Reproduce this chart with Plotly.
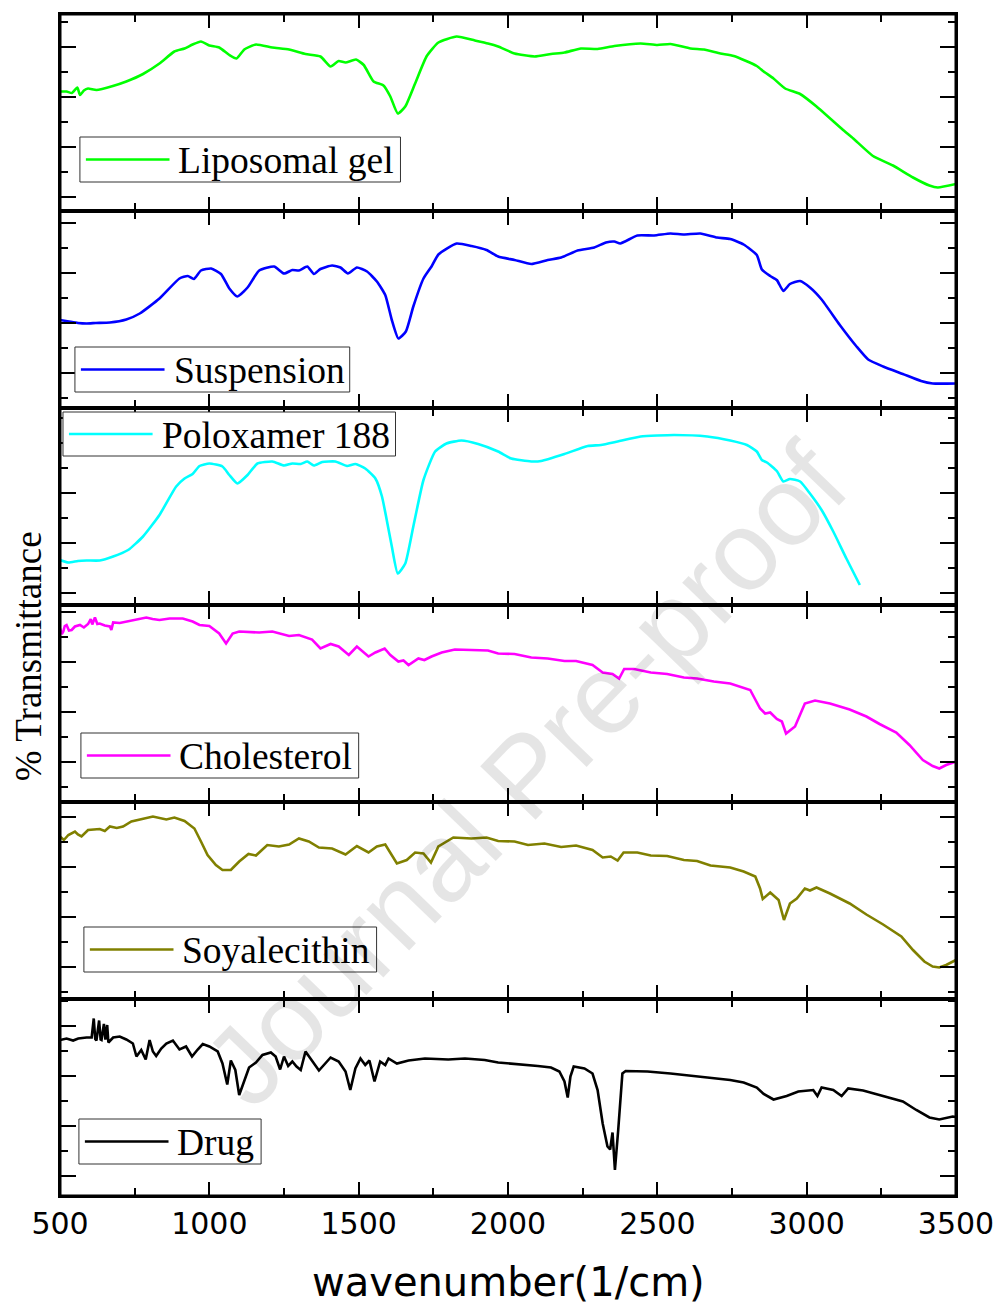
import plotly.graph_objects as go
from plotly.subplots import make_subplots

# FTIR spectra: (wavenumber 1/cm, % transmittance) pairs, one list per sample
liposomal_gel = [(500, 23.9), (522, 23.9), (540, 23.6), (558, 24.7), (567, 23.2), (580, 24.1), (594, 24.5),
                 (622, 24.2), (677, 25.0), (722, 25.9), (778, 27.4), (833, 29.5), (883, 31.9), (917, 32.5),
                 (944, 33.3), (972, 33.9), (1000, 33.1), (1033, 32.7), (1067, 31.2), (1091, 30.5), (1117, 32.3),
                 (1156, 33.3), (1211, 32.7), (1267, 32.3), (1322, 31.4), (1372, 30.9), (1406, 28.9), (1433, 30.0),
                 (1456, 29.7), (1491, 30.3), (1517, 29.2), (1550, 25.9), (1583, 25.1), (1606, 22.9), (1631, 19.5),
                 (1656, 20.9), (1689, 25.5), (1728, 31.0), (1767, 33.7), (1828, 34.9), (1889, 34.1), (1933, 33.5),
                 (1967, 32.9), (2022, 31.5), (2089, 30.9), (2144, 31.4), (2189, 31.7), (2244, 32.5), (2300, 32.4),
                 (2356, 33.0), (2444, 33.5), (2500, 33.2), (2544, 33.4), (2611, 32.5), (2656, 32.3), (2711, 31.5),
                 (2756, 31.0), (2833, 29.0), (2856, 27.9), (2889, 26.5), (2928, 24.5), (2978, 23.4), (3033, 20.9),
                 (3122, 16.2), (3156, 14.5), (3222, 11.0), (3289, 9.1), (3356, 6.7), (3411, 5.1), (3439, 4.7),
                 (3500, 5.4)]

suspension = [(500, 17.6), (530, 17.3), (560, 17.0), (589, 16.9), (620, 17.0), (667, 17.1), (722, 17.7),
              (767, 18.9), (833, 21.9), (900, 25.9), (928, 26.4), (948, 25.8), (972, 27.5), (1006, 27.9),
              (1039, 26.8), (1067, 23.9), (1094, 22.3), (1128, 24.1), (1167, 27.5), (1217, 28.3), (1250, 26.9),
              (1278, 27.6), (1300, 27.5), (1328, 28.3), (1350, 26.8), (1372, 27.8), (1411, 28.5), (1439, 28.1),
              (1464, 26.9), (1494, 28.1), (1528, 27.3), (1561, 25.3), (1589, 22.6), (1611, 17.6), (1633, 13.9),
              (1658, 15.3), (1683, 20.3), (1717, 25.9), (1744, 28.3), (1767, 30.7), (1828, 32.9), (1878, 32.4),
              (1928, 31.6), (1967, 30.3), (2022, 29.6), (2078, 28.8), (2133, 29.6), (2178, 30.1), (2233, 31.5),
              (2289, 32.1), (2328, 33.1), (2356, 33.3), (2376, 32.9), (2433, 34.5), (2489, 34.5), (2544, 34.9),
              (2589, 34.7), (2644, 34.9), (2700, 34.1), (2744, 33.8), (2789, 32.7), (2833, 30.6), (2850, 27.7),
              (2878, 26.4), (2900, 25.6), (2922, 23.4), (2944, 24.8), (2978, 25.4), (3011, 24.1), (3050, 21.7),
              (3111, 16.6), (3167, 12.3), (3206, 9.7), (3256, 8.3), (3322, 6.8), (3383, 5.4), (3422, 4.9),
              (3500, 4.9)]

poloxamer_188 = [(500, 9.0), (528, 8.5), (560, 8.8), (589, 8.9), (633, 8.9), (678, 9.7), (728, 11.0),
                 (778, 13.7), (833, 18.0), (889, 23.7), (917, 25.3), (944, 26.2), (967, 27.8), (1000, 28.3),
                 (1044, 27.7), (1067, 26.0), (1094, 24.3), (1128, 26.0), (1161, 28.3), (1211, 28.7), (1250, 27.9),
                 (1278, 28.3), (1306, 28.2), (1328, 28.7), (1350, 27.9), (1378, 28.6), (1422, 28.7), (1461, 27.8),
                 (1489, 28.2), (1522, 27.3), (1556, 25.3), (1578, 21.7), (1594, 17.0), (1611, 11.7), (1631, 6.3),
                 (1656, 8.3), (1683, 15.7), (1717, 25.0), (1756, 30.7), (1794, 32.3), (1844, 32.9), (1900, 32.2),
                 (1967, 30.7), (2011, 29.3), (2078, 28.7), (2111, 28.8), (2189, 30.2), (2267, 31.8), (2311, 32.0),
                 (2367, 32.7), (2444, 33.7), (2556, 34.0), (2667, 33.7), (2744, 32.9), (2800, 32.0), (2833, 30.7),
                 (2850, 29.0), (2867, 28.5), (2900, 26.8), (2922, 24.7), (2944, 25.2), (2978, 24.7), (3011, 22.3),
                 (3050, 19.0), (3089, 14.7), (3133, 9.3), (3178, 4.0)]

cholesterol = [(500, 34.7), (506, 33.6), (511, 34.1), (516, 35.2), (522, 35.4), (530, 34.3), (539, 34.4),
               (550, 35.1), (567, 35.4), (580, 34.9), (594, 35.6), (603, 36.6), (608, 35.5), (617, 36.9),
               (625, 35.6), (633, 35.7), (650, 35.3), (667, 35.1), (672, 34.4), (678, 35.9), (700, 35.8),
               (744, 36.4), (789, 36.9), (810, 36.6), (833, 36.4), (867, 36.7), (911, 36.7), (944, 36.1),
               (967, 35.4), (1000, 35.2), (1033, 33.7), (1056, 31.7), (1078, 33.7), (1100, 34.1), (1167, 33.9),
               (1211, 34.1), (1267, 33.2), (1300, 33.4), (1344, 32.5), (1372, 30.7), (1406, 31.6), (1433, 31.1),
               (1467, 29.4), (1494, 31.1), (1533, 29.1), (1556, 29.9), (1587, 30.7), (1606, 29.4), (1633, 28.1),
               (1650, 28.3), (1667, 27.4), (1700, 28.7), (1720, 28.4), (1744, 29.1), (1778, 29.9), (1822, 30.5),
               (1878, 30.4), (1933, 30.3), (1967, 29.7), (2022, 29.6), (2078, 28.9), (2133, 28.7), (2189, 28.2),
               (2228, 28.2), (2283, 27.4), (2317, 25.9), (2350, 25.6), (2372, 24.7), (2389, 26.6), (2422, 26.6),
               (2478, 25.9), (2533, 25.6), (2589, 24.9), (2633, 24.7), (2689, 24.1), (2744, 23.7), (2811, 22.4),
               (2844, 18.7), (2861, 17.7), (2878, 17.9), (2900, 16.6), (2917, 16.1), (2931, 13.7), (2961, 15.1),
               (2994, 19.7), (3028, 20.3), (3078, 19.7), (3144, 18.5), (3200, 17.1), (3244, 15.6), (3300, 13.9),
               (3344, 11.4), (3389, 8.4), (3422, 7.2), (3444, 6.7), (3467, 7.4), (3500, 8.1)]

soyalecithin = [(500, 32.5), (513, 31.8), (528, 32.8), (550, 33.5), (560, 32.9), (572, 32.5), (594, 33.8),
                (633, 34.0), (650, 33.6), (667, 34.5), (690, 34.2), (711, 34.5), (739, 35.5), (778, 36.0),
                (811, 36.5), (856, 35.9), (883, 36.3), (917, 35.6), (950, 34.1), (972, 31.5), (994, 28.8),
                (1022, 26.8), (1044, 25.8), (1072, 25.8), (1100, 27.5), (1131, 29.0), (1156, 28.7), (1194, 30.8),
                (1233, 30.5), (1267, 30.9), (1300, 32.1), (1333, 31.5), (1367, 30.3), (1411, 30.1), (1456, 28.9),
                (1494, 30.6), (1533, 29.3), (1561, 30.5), (1589, 30.9), (1628, 27.1), (1661, 27.8), (1689, 29.3),
                (1717, 29.1), (1742, 27.3), (1767, 30.5), (1817, 32.3), (1878, 32.1), (1928, 32.3), (1967, 31.6),
                (2022, 31.5), (2067, 30.8), (2122, 31.1), (2178, 30.4), (2228, 30.7), (2283, 29.8), (2317, 28.3),
                (2344, 28.5), (2367, 27.7), (2387, 29.3), (2433, 29.3), (2478, 28.7), (2533, 28.6), (2589, 27.8),
                (2633, 27.6), (2678, 26.7), (2744, 26.3), (2789, 25.5), (2828, 24.5), (2844, 22.1), (2853, 20.0),
                (2878, 21.3), (2906, 19.8), (2924, 15.8), (2944, 19.1), (2967, 20.1), (2994, 22.1), (3011, 21.7),
                (3033, 22.3), (3078, 21.1), (3144, 19.1), (3200, 16.9), (3256, 14.9), (3317, 12.5), (3356, 9.8),
                (3394, 7.5), (3422, 6.5), (3444, 6.3), (3467, 6.8), (3500, 7.8)]

drug = [(500, 31.2), (522, 31.5), (544, 31.1), (561, 31.5), (589, 31.7), (606, 31.7), (613, 35.5), (618, 31.4),
        (622, 31.1), (631, 35.1), (636, 31.3), (639, 31.2), (647, 34.4), (652, 31.3), (658, 34.2), (662, 30.7),
        (678, 31.7), (700, 31.9), (722, 31.3), (744, 30.5), (756, 27.9), (772, 29.2), (787, 27.3), (800, 31.2),
        (811, 28.9), (822, 28.0), (839, 29.5), (856, 30.5), (878, 31.1), (900, 29.3), (922, 29.9), (942, 27.9),
        (961, 29.3), (978, 30.4), (1000, 29.9), (1028, 28.9), (1044, 26.5), (1060, 22.3), (1072, 27.1),
        (1087, 25.2), (1100, 20.2), (1117, 23.2), (1133, 25.7), (1156, 26.7), (1178, 28.2), (1206, 28.7),
        (1222, 27.9), (1237, 25.3), (1250, 27.9), (1264, 26.0), (1278, 26.9), (1292, 25.9), (1306, 25.2),
        (1322, 28.9), (1344, 27.1), (1367, 25.1), (1406, 27.7), (1433, 26.9), (1456, 24.9), (1472, 21.2),
        (1489, 25.5), (1506, 27.5), (1522, 26.2), (1536, 27.1), (1553, 22.9), (1572, 26.9), (1589, 26.2),
        (1600, 27.5), (1628, 26.5), (1667, 27.1), (1722, 27.5), (1800, 27.3), (1856, 27.5), (1922, 27.2),
        (1967, 26.7), (2033, 26.4), (2100, 26.0), (2144, 25.7), (2172, 24.9), (2189, 22.9), (2200, 19.7),
        (2209, 23.9), (2220, 25.9), (2256, 25.5), (2283, 24.5), (2300, 21.2), (2317, 14.5), (2333, 9.9),
        (2342, 9.3), (2350, 12.7), (2358, 5.2), (2369, 13.2), (2383, 24.5), (2394, 25.0), (2467, 24.9),
        (2544, 24.5), (2611, 24.1), (2689, 23.5), (2744, 23.2), (2789, 22.7), (2833, 21.7), (2856, 20.4),
        (2889, 19.3), (2933, 20.0), (2972, 20.9), (3022, 21.2), (3036, 20.0), (3050, 21.7), (3089, 21.2),
        (3117, 20.0), (3139, 21.5), (3189, 21.1), (3256, 20.0), (3322, 18.9), (3367, 17.2), (3411, 15.7),
        (3444, 15.3), (3489, 15.9), (3500, 15.8)]

series_names = ["Liposomal gel", "Suspension", "Poloxamer 188", "Cholesterol", "Soyalecithin", "Drug"]
series_data = [liposomal_gel, suspension, poloxamer_188, cholesterol, soyalecithin, drug]
series_colors = ["#00ff00", "#0000ff", "#00ffff", "#ff00ff", "#808000", "#000000"]
series_smooth = [True, True, True, False, False, False]

x_ticks = [500, 1000, 1500, 2000, 2500, 3000, 3500]
# offset of the first major y tick in each panel
y_tick0 = [2.8, 6.94, 2.4, 7.94, 6.46, 4.0]
Y_SPAN = 39.4

# figure geometry (pixels)
W, H = 1006, 1306
ML, MR, MT, MB = 60, 46, 14, 110
PW, PH = W - ML - MR, H - MT - MB
AXIS_W = 1.7


def fx(px):
    return (px - ML) / PW


def fy(py):
    return (H - MB - py) / PH


# legend boxes per panel: left, top, right, bottom (pixels)
legend_boxes = [(80, 137, 402, 182), (75, 347, 351, 392), (63, 412, 397, 456),
                (81, 733, 360, 778), (84, 927, 378, 972), (79, 1119, 262, 1164)]

fig = make_subplots(rows=6, cols=1, shared_xaxes=True, vertical_spacing=0)

for i, (name, data, color, smooth) in enumerate(zip(series_names, series_data, series_colors, series_smooth), start=1):
    wn = [p[0] for p in data]
    tr = [p[1] for p in data]
    line = dict(color=color, width=2.6)
    if smooth:
        line.update(shape="spline", smoothing=0.5)
    fig.add_trace(go.Scatter(x=wn, y=tr, mode="lines", name=name, line=line,
                             showlegend=False, hoverinfo="skip"), row=i, col=1)
    fig.update_yaxes(range=[0, Y_SPAN], showticklabels=False, showgrid=False, zeroline=False,
                     showline=True, linecolor="black", linewidth=AXIS_W, mirror="allticks",
                     ticks="inside", ticklen=16, tickwidth=2, tickcolor="black",
                     tickmode="linear", tick0=y_tick0[i - 1], dtick=10,
                     minor=dict(ticks="inside", ticklen=8, tickwidth=2, tickcolor="black",
                                tick0=y_tick0[i - 1], dtick=5, showgrid=False),
                     row=i, col=1)
    fig.update_xaxes(range=[500, 3500], showgrid=False, zeroline=False,
                     showline=True, linecolor="black", linewidth=AXIS_W, mirror="allticks",
                     ticks="inside", ticklen=14, tickwidth=2, tickcolor="black",
                     tickmode="array", tickvals=x_ticks, ticktext=[str(v) for v in x_ticks],
                     minor=dict(ticks="inside", ticklen=8, tickwidth=2, tickcolor="black",
                                tick0=500, dtick=250, showgrid=False),
                     showticklabels=(i == 6),
                     tickfont=dict(family="DejaVu Sans", size=30, color="black"),
                     row=i, col=1)

    # legend box for this panel
    bx0, by0, bx1, by1 = legend_boxes[i - 1]
    cy = (by0 + by1) / 2
    fig.add_shape(type="rect", xref="paper", yref="paper",
                  x0=fx(bx0), x1=fx(bx1), y0=fy(by1), y1=fy(by0),
                  line=dict(color="#333333", width=1), fillcolor="white", layer="above")
    fig.add_shape(type="line", xref="paper", yref="paper",
                  x0=fx(bx0 + 6), x1=fx(bx0 + 90), y0=fy(cy), y1=fy(cy),
                  line=dict(color=color, width=2.6), layer="above")
    fig.add_annotation(text=name, xref="paper", yref="paper", x=fx(bx0 + 97), y=fy(cy + 1),
                       xanchor="left", yanchor="middle", showarrow=False,
                       font=dict(family="Liberation Serif", size=37.5, color="black"))

# outer frame around the stacked panels
fig.add_shape(type="rect", xref="paper", yref="paper", x0=0, x1=1, y0=0, y1=1,
              line=dict(color="black", width=3), layer="above")

# axis titles
fig.add_annotation(text="wavenumber(1/cm)", xref="paper", yref="paper", x=fx(510), y=fy(1282),
                   xanchor="center", yanchor="middle", showarrow=False,
                   font=dict(family="DejaVu Sans", size=40, color="black"))
fig.add_annotation(text="% Transmittance", xref="paper", yref="paper", x=fx(28), y=fy(656),
                   xanchor="center", yanchor="middle", showarrow=False, textangle=-90,
                   font=dict(family="Liberation Serif", size=37, color="black"))

# watermark
fig.add_annotation(text="Journal Pre-proof", xref="paper", yref="paper", x=fx(528), y=fy(775),
                   xanchor="center", yanchor="middle", showarrow=False, textangle=-46,
                   font=dict(family="Liberation Sans", size=112, color="rgba(0,0,0,0.1)"))

fig.update_layout(width=W, height=H, margin=dict(l=ML, r=MR, t=MT, b=MB),
                  paper_bgcolor="white", plot_bgcolor="white", showlegend=False)

fig.write_html("out.html", config={"displayModeBar": False})
